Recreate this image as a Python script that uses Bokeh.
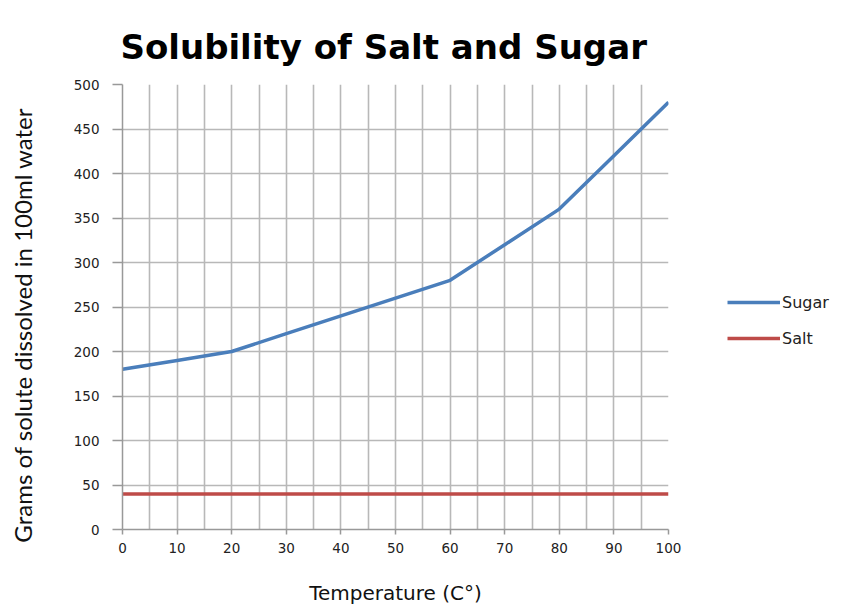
from bokeh.plotting import figure
from bokeh.layouts import row
from bokeh.models import Range1d, SingleIntervalTicker, Legend, LegendItem
from bokeh.embed import file_html
from bokeh.resources import INLINE

temperature = [0, 10, 20, 30, 40, 50, 60, 70, 80, 90, 100]
sugar = [180, 190, 200, 220, 240, 260, 280, 320, 360, 420, 480]
salt = [40, 40, 40, 40, 40, 40, 40, 40, 40, 40, 40]
series_names = ["Sugar", "Salt"]
series_colors = ["#4a7ebb", "#be4b48"]

H = 608
p = figure(width=690, height=H, output_backend="svg", toolbar_location=None,
           x_range=Range1d(0, 100), y_range=Range1d(0, 500),
           min_border_left=122, min_border_right=22, min_border_top=84, min_border_bottom=79)

p.title.text = "Solubility of Salt and Sugar\u00a0\u00a0"
p.title.text_font = "DejaVu Sans"
p.title.text_font_size = "34px"
p.title.text_font_style = "bold"
p.title.align = "center"
p.title.vertical_align = "bottom"
p.title.text_color = "#000000"
p.title.standoff = 36

p.outline_line_color = None

gray = "#b8b8b8"
p.xaxis.ticker = SingleIntervalTicker(interval=10)
p.yaxis.ticker = SingleIntervalTicker(interval=50)
p.xgrid.ticker = SingleIntervalTicker(interval=5)
p.xgrid.grid_line_color = gray
p.ygrid.grid_line_color = gray
p.xgrid.grid_line_width = 1.6
p.ygrid.grid_line_width = 1.6

for ax in (p.xaxis[0], p.yaxis[0]):
    ax.axis_line_color = "#999999"
    ax.axis_line_width = 1.5
    ax.major_tick_line_color = "#999999"
    ax.major_tick_line_width = 1.5
    ax.major_tick_in = 0
    ax.minor_tick_line_color = None
    ax.major_label_text_font = "DejaVu Sans"
    ax.major_label_text_font_size = "13.5px"
    ax.major_label_text_color = "#222222"
p.xaxis.major_tick_out = 5
p.yaxis.major_tick_out = 10
p.yaxis.major_label_standoff = 13
p.xaxis.major_label_standoff = 8

p.yaxis.axis_label = "Grams of solute dissolved in 100ml water\u00a0\u00a0\u00a0\u00a0\u00a0\u00a0"
p.yaxis.axis_label_text_font = "Lato"
p.yaxis.axis_label_text_font_style = "normal"
p.yaxis.axis_label_text_font_size = "24px"
p.yaxis.axis_label_text_color = "#111111"
p.yaxis.axis_label_standoff = 34

p.xaxis.axis_label = "Temperature (C°)"
p.xaxis.axis_label_text_font = "DejaVu Sans"
p.xaxis.axis_label_text_font_style = "normal"
p.xaxis.axis_label_text_font_size = "20px"
p.xaxis.axis_label_text_color = "#111111"
p.xaxis.axis_label_standoff = 25

p.line(temperature, sugar, line_color=series_colors[0], line_width=3.5)
p.line(temperature, salt, line_color=series_colors[1], line_width=3.5)

# legend panel: a second figure whose view range lies outside the data,
# so only its legend shows
lg = figure(width=150, height=H, output_backend="svg", toolbar_location=None,
            x_range=Range1d(-1000, -900), y_range=Range1d(0, 500),
            min_border=0)
lg.axis.visible = False
lg.grid.visible = False
lg.outline_line_color = None
lr1 = lg.line(temperature, sugar, line_color=series_colors[0], line_width=3.5)
lr2 = lg.line(temperature, salt, line_color=series_colors[1], line_width=3.5)

legend = Legend(items=[LegendItem(label=series_names[0], renderers=[lr1]),
                       LegendItem(label=series_names[1], renderers=[lr2])],
                location=(37, 181), glyph_width=53, label_standoff=2,
                spacing=16, padding=0, margin=0, border_line_color=None,
                background_fill_alpha=0, label_text_font="DejaVu Sans",
                label_text_font_size="16px", label_text_color="#222222")
lg.add_layout(legend, "center")

layout = row(p, lg, spacing=0)
open("out.html", "w").write(file_html(layout, INLINE))
